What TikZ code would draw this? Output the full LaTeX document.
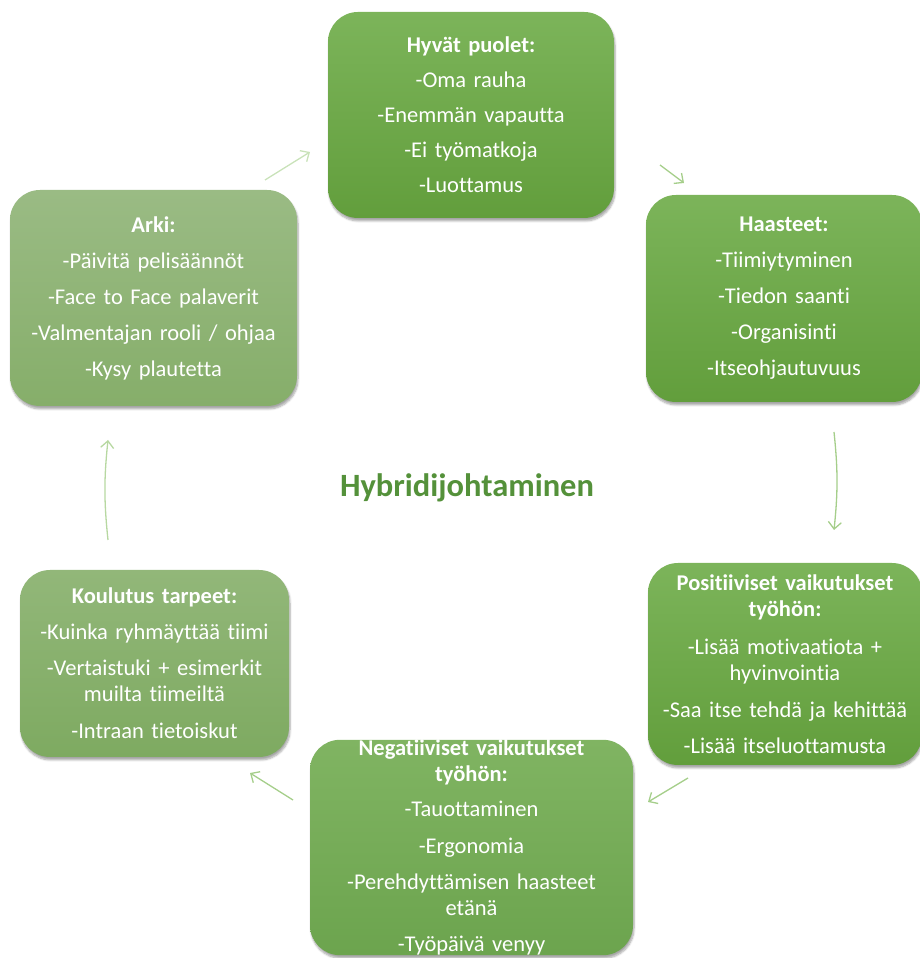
\documentclass[tikz,border=0pt]{standalone}
\usepackage{fontspec}
\setmainfont[Ligatures=NoCommon]{Carlito}
\usetikzlibrary{arrows.meta}
\usetikzlibrary{shadows.blur}
\definecolor{ylavihrea}{RGB}{124,180,90}
\definecolor{alavihrea}{RGB}{98,158,60}
\definecolor{negyla}{RGB}{128,180,98}
\definecolor{negala}{RGB}{108,164,78}
\definecolor{kouyla}{RGB}{146,183,121}
\definecolor{kouala}{RGB}{126,170,97}
\definecolor{arkiyla}{RGB}{154,187,132}
\definecolor{arkiala}{RGB}{134,174,106}
\definecolor{nuoli}{RGB}{165,206,138}
\definecolor{otsikko}{RGB}{84,145,58}
\tikzset{card/.style n args={4}{rounded corners=30pt,top color=#1,bottom color=#2,
    minimum width=#3,minimum height=#4,text width=#3-6pt,inner sep=0pt,align=center,
    text=white,font=\fontsize{22.5}{26}\selectfont,
    blur shadow={shadow xshift=1pt,shadow yshift=-3pt,shadow blur steps=6,shadow opacity=35}},
  kierto/.style={draw=nuoli,line width=1.3pt,-{Straight Barb[length=7pt,width=13pt]}}
}

\begin{document}
\begin{tikzpicture}[x=1pt,y=1pt]
            \useasboundingbox (0,0) rectangle (920,958);
            
            % Boxes
            \node[card={ylavihrea}{alavihrea}{286pt}{206pt}] (hyvat) at (471,843)
                {\textbf{Hyvät puolet:}\\[9pt]-Oma rauha\\[9pt]-Enemmän vapautta\\[9pt]-Ei työmatkoja\\[9pt]-Luottamus};
            \node[card={ylavihrea}{alavihrea}{276pt}{207pt}] (haasteet) at (784,659.5)
                {\textbf{Haasteet:}\\[10pt]-Tiimiytyminen\\[10pt]-Tiedon saanti\\[10pt]-Organisinti\\[10pt]-Itseohjautuvuus};
            \node[card={ylavihrea}{alavihrea}{274pt}{202pt}] (positiivinen) at (785,294)
                {\textbf{Positiiviset vaikutukset}\\\textbf{työhön:}\\[12pt]-Lisää motivaatiota +\\hyvinvointia\\[11pt]-Saa itse tehdä ja kehittää\\[10pt]-Lisää itseluottamusta};
            \node[card={negyla}{negala}{323pt}{215pt}] (negatiivinen) at (471.5,110.5)
                {\textbf{Negatiiviset vaikutukset}\\\textbf{työhön:}\\[9pt]-Tauottaminen\\[11pt]-Ergonomia\\[10pt]-Perehdyttämisen haasteet\\etänä\\[10pt]-Työpäivä venyy};
            \node[card={kouyla}{kouala}{269pt}{187pt}] (koulutus) at (154.5,294.5)
                {\textbf{Koulutus tarpeet:}\\[10pt]-Kuinka ryhmäyttää tiimi\\[10pt]-Vertaistuki + esimerkit\\muilta tiimeiltä\\[11pt]-Intraan tietoiskut};
            \node[card={arkiyla}{arkiala}{287pt}{216pt}] (arki) at (153.5,660)
                {\textbf{Arki:}\\[10pt]-Päivitä pelisäännöt\\[10pt]-Face to Face palaverit\\[10pt]-Valmentajan rooli / ohjaa\\[10pt]-Kysy plautetta};
            
            % Title
            \node[text=otsikko,font=\fontsize{32.5}{38}\selectfont\bfseries] (otsikko) at (467,470) {Hybridijohtaminen};
            
            % Arrow ends
            \coordinate (a1) at (265,778);  \coordinate (b1) at (310,806);
            \coordinate (a2) at (660,793);  \coordinate (b2) at (684,775);
            \coordinate (a3) at (834,526);  \coordinate (b3) at (834,428);
            \coordinate (a4) at (688,180);  \coordinate (b4) at (648,156);
            \coordinate (a5) at (293,158);  \coordinate (b5) at (250,185);
            \coordinate (a6) at (108,418);  \coordinate (b6) at (108,518);
            
            % Cycle
            \draw[kierto,draw=nuoli!60] (a1) -- (b1);
            \draw[kierto] (a2) -- (b2);
            \draw[kierto] (a3) to[bend left=6] (b3);
            \draw[kierto] (a4) -- (b4);
            \draw[kierto] (a5) -- (b5);
            \draw[kierto,draw=nuoli!80] (a6) to[bend left=6] (b6);
        \end{tikzpicture}
\end{document}
